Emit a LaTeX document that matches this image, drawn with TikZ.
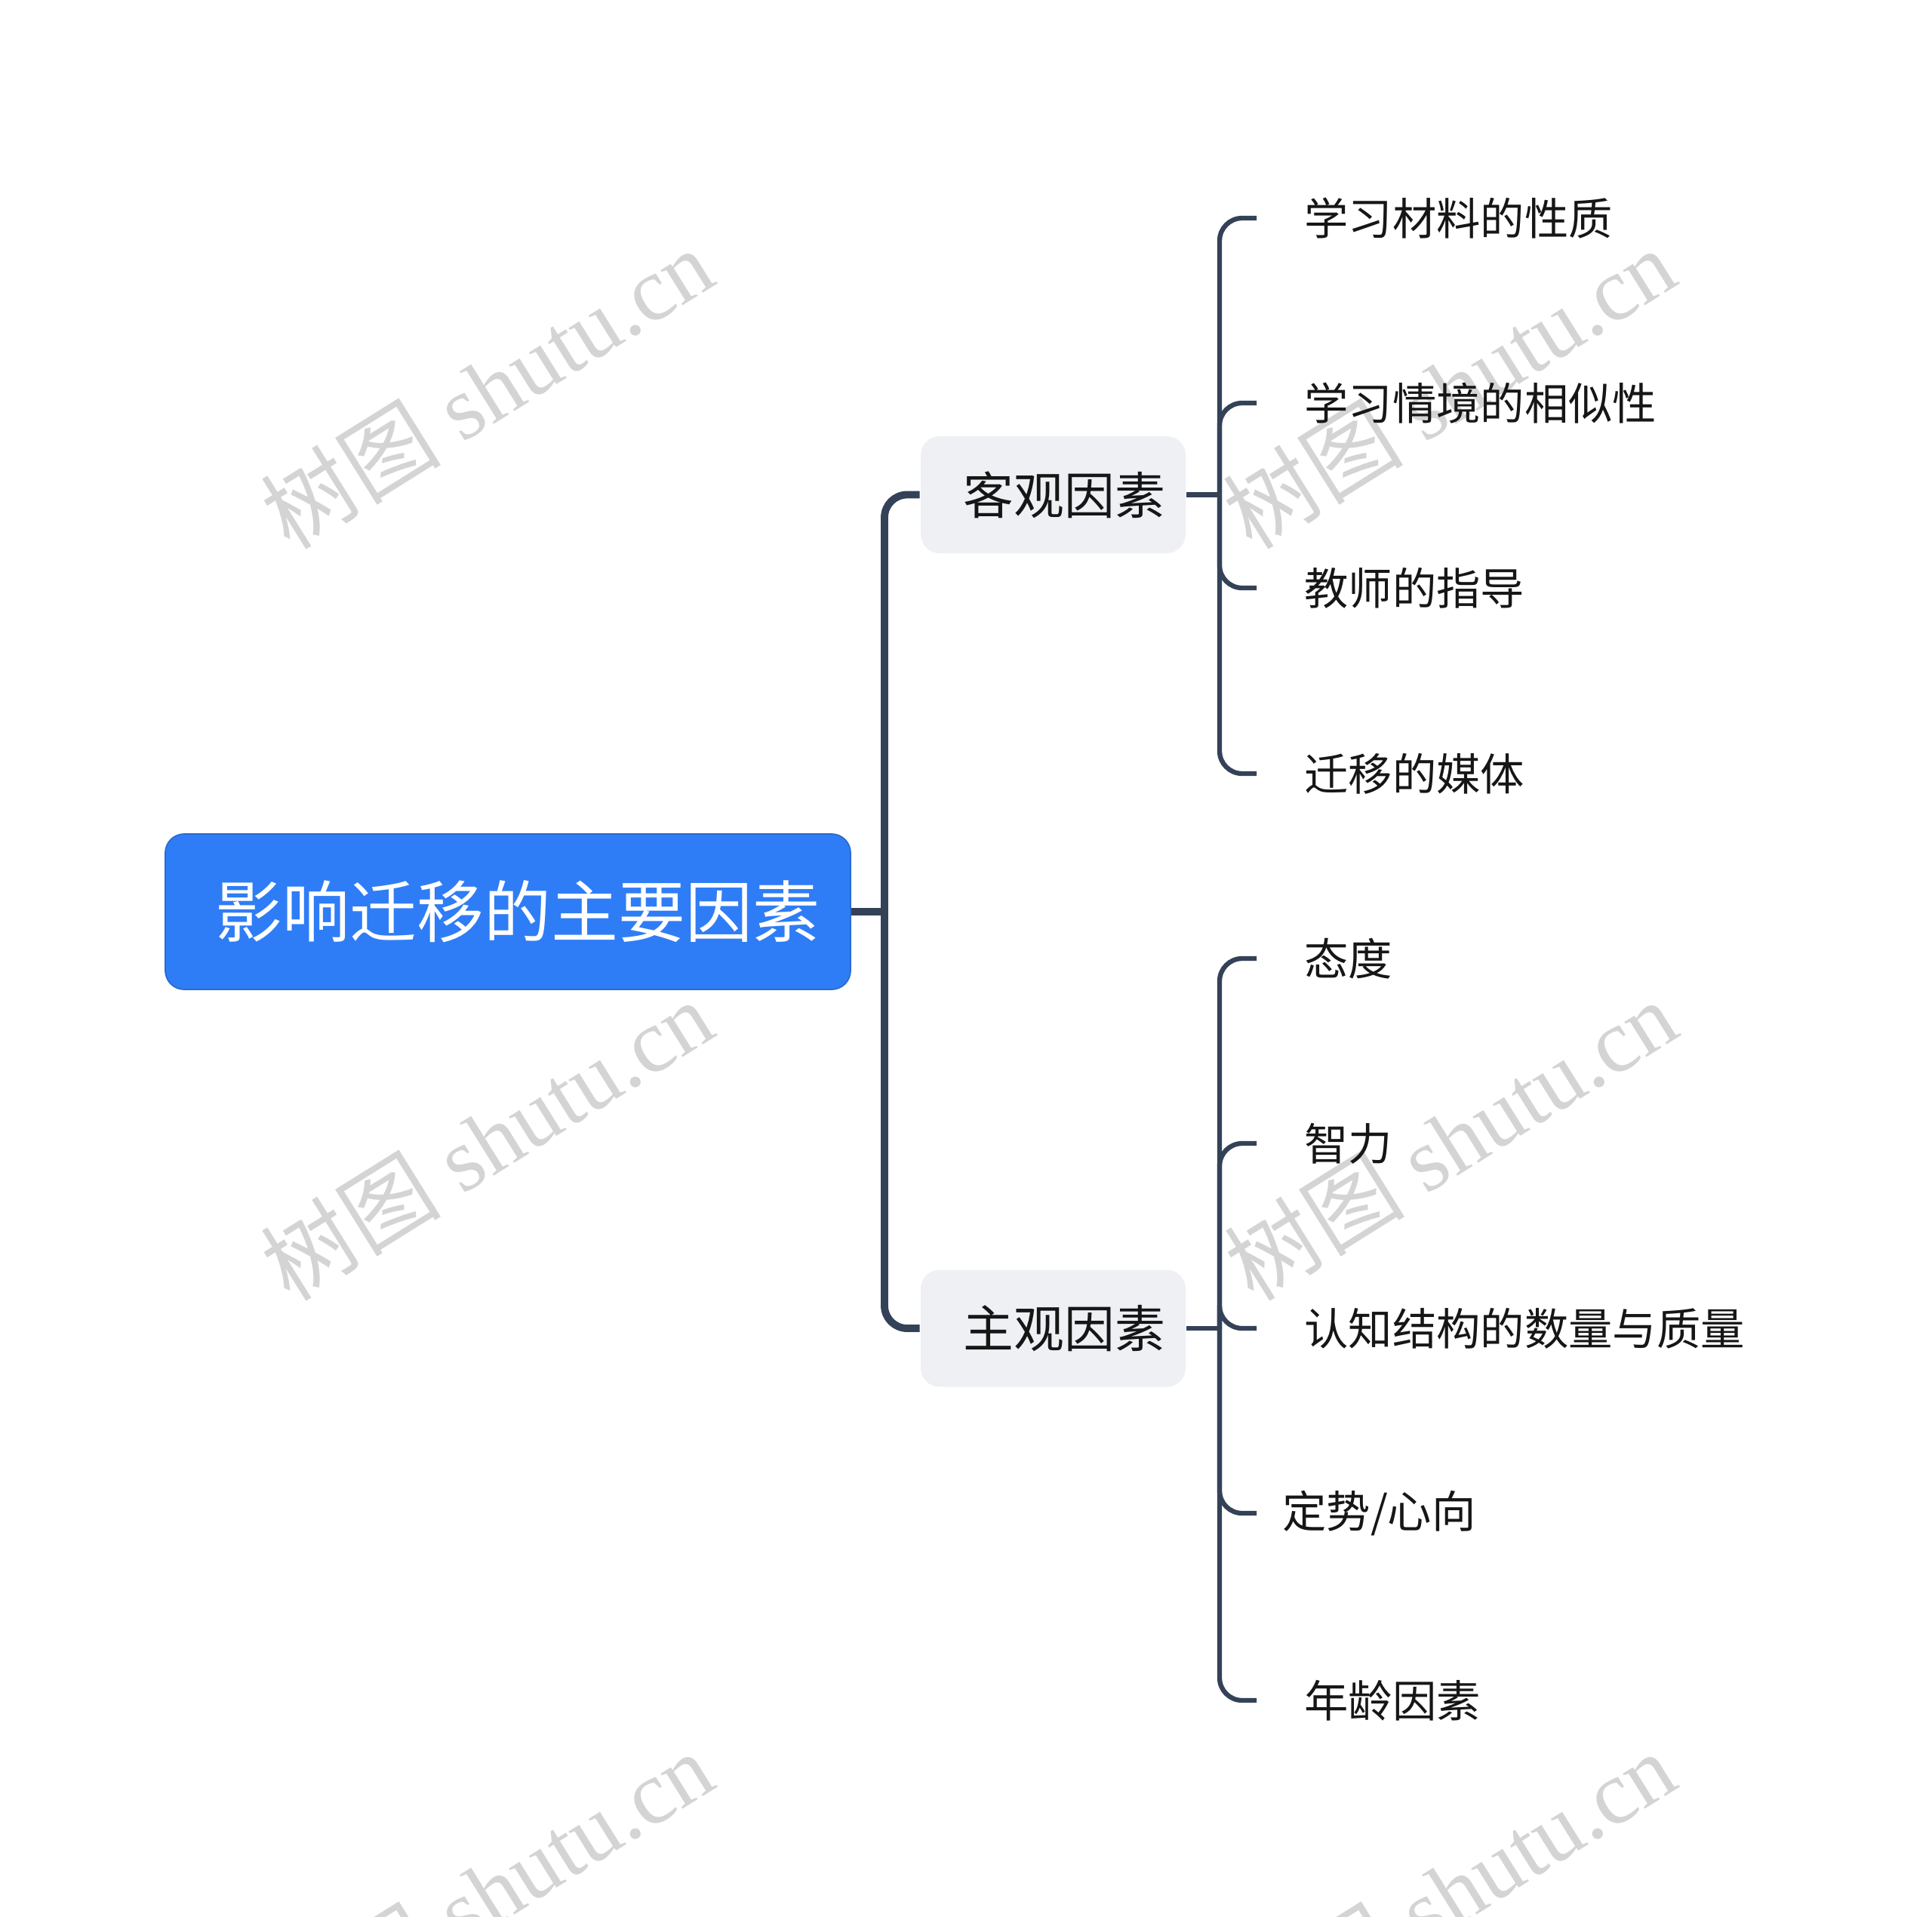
\documentclass[tikz,border=0pt]{standalone}
\usepackage{fontspec}
\setmainfont{Liberation Serif}
\newfontfamily\cjk{Noto Sans CJK SC}
\usetikzlibrary{positioning}

\definecolor{rootblue}{RGB}{47,125,246}
\definecolor{boxgray}{RGB}{238,240,244}
\definecolor{linedark}{RGB}{52,66,88}
\definecolor{textdark}{RGB}{22,22,22}
\definecolor{markgray}{RGB}{212,212,212}

\begin{document}
\begin{tikzpicture}[thick,
    root node/.style={rectangle,rounded corners=0.25cm,fill=rootblue,draw=rootblue!85!black,line width=0.5pt,
      text=white,font=\cjk\fontsize{25.3}{30}\selectfont,minimum width=9.08cm,minimum height=2.06cm},
    cat node/.style={rectangle,rounded corners=0.25cm,fill=boxgray,text=textdark,
      font=\cjk\fontsize{19}{22}\selectfont,minimum width=3.51cm,minimum height=1.55cm},
    leaf node/.style={anchor=west,inner ysep=2pt,inner xsep=0.62cm,text=textdark,
      font=\cjk\fontsize{16.6}{20}\selectfont},
    trunk/.style={draw=linedark,line width=2.8pt,rounded corners=0.3cm},
    branch/.style={draw=linedark,line width=1.8pt,rounded corners=0.3cm},
    wmark/.style={text=markgray,rotate=32,font=\fontsize{34}{38}\selectfont}]

  \useasboundingbox (0,0) rectangle (25.6,-25.4);

  % watermarks
  \node[wmark] (w1) at (6.45,-5.14) {{\cjk 树图} shutu.cn};
  \node[wmark] (w2) at (6.45,-15.10) {{\cjk 树图} shutu.cn};
  \node[wmark] (w3) at (19.20,-5.14) {{\cjk 树图} shutu.cn};
  \node[wmark] (w4) at (19.22,-15.10) {{\cjk 树图} shutu.cn};
  \node[wmark] (w5) at (6.45,-25.06) {{\cjk 树图} shutu.cn};
  \node[wmark] (w6) at (19.20,-25.06) {{\cjk 树图} shutu.cn};

  \node[root node] (root) at (6.73,-12.08) {\hspace*{0.26cm}影响迁移的主要因素};
  \node[cat node] (keguan) at (13.955,-6.555) {\hspace*{0.3cm}客观因素};
  \node[cat node] (zhuguan) at (13.955,-17.60) {\hspace*{0.3cm}主观因素};

  \node[leaf node] (k1) at (16.65,-2.89) {学习材料的性质};
  \node[leaf node] (k2) at (16.65,-5.34) {学习情境的相似性};
  \node[leaf node] (k3) at (16.65,-7.79) {教师的指导};
  \node[leaf node] (k4) at (16.65,-10.25) {迁移的媒体};

  \node[leaf node] (z1) at (16.65,-12.70) {态度};
  \node[leaf node] (z2) at (16.65,-15.15) {智力};
  \node[leaf node] (z3) at (16.65,-17.60) {认知结构的数量与质量};
  \node[leaf node,inner xsep=0.33cm] (z4) at (16.65,-20.05) {定势/心向};
  \node[leaf node] (z5) at (16.65,-22.53) {年龄因素};

  \coordinate (j0) at (11.72,-12.08);
  \coordinate (j1) at (16.16,-6.555);
  \coordinate (j2) at (16.16,-17.60);

  % root to categories
  \draw[trunk] (root.east) -- (j0);
  \draw[trunk] (j0) |- (keguan.west);
  \draw[trunk] (j0) |- (zhuguan.west);

  % objective factors
  \draw[branch] (keguan.east) -- (j1);
  \draw[branch] (j1) |- (k1.west);
  \draw[branch] (j1) |- (k2.west);
  \draw[branch] (j1) |- (k3.west);
  \draw[branch] (j1) |- (k4.west);

  % subjective factors
  \draw[branch] (zhuguan.east) -- (j2);
  \draw[branch] (j2) |- (z1.west);
  \draw[branch] (j2) |- (z2.west);
  \draw[branch] (j2) |- (z3.west);
  \draw[branch] (j2) |- (z4.west);
  \draw[branch] (j2) |- (z5.west);

\end{tikzpicture}
\end{document}
